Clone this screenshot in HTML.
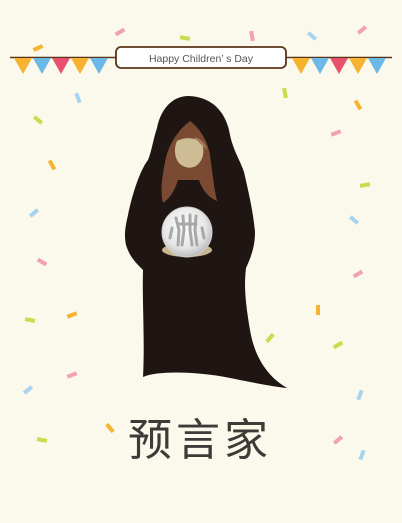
<!DOCTYPE html>
<html><head><meta charset="utf-8"><style>
html,body{margin:0;padding:0;background:#fbf9ec;}
#root{position:relative;width:402px;height:523px;overflow:hidden;background:#fbf9ec;}
svg{position:absolute;left:0;top:0;}
</style></head><body>
<div id="root">
<svg width="402" height="523" viewBox="0 0 402 523">
 <defs>
  <radialGradient id="orb" cx="0.45" cy="0.4" r="0.6">
   <stop offset="0" stop-color="#ffffff"/><stop offset="0.7" stop-color="#e6e6e6"/><stop offset="1" stop-color="#bdbdbd"/>
  </radialGradient>
 </defs>
 <g id="confetti"></g>
 <g>
  <line x1="10" y1="57.5" x2="392" y2="57.5" stroke="#5a3518" stroke-width="1.5"/>
  <polygon points="14,58 32,58 23,74" fill="#f6b330"/>
  <polygon points="33,58 51,58 42,74" fill="#6cb8e6"/>
  <polygon points="52,58 70,58 61,74" fill="#e8506e"/>
  <polygon points="71,58 89,58 80,74" fill="#f6b330"/>
  <polygon points="90,58 108,58 99,74" fill="#6cb8e6"/>
  <polygon points="292,58 310,58 301,74" fill="#f6b330"/>
  <polygon points="311,58 329,58 320,74" fill="#6cb8e6"/>
  <polygon points="330,58 348,58 339,74" fill="#e8506e"/>
  <polygon points="349,58 367,58 358,74" fill="#f6b330"/>
  <polygon points="368,58 386,58 377,74" fill="#6cb8e6"/>
 </g>
 <g>
  <rect x="116" y="47" width="170" height="21" rx="5" fill="#fff" stroke="#5a3518" stroke-width="1.8"/>
  <text x="201" y="62" text-anchor="middle" font-family="Liberation Sans, sans-serif" font-size="10.5" fill="#555">Happy Children’ s Day</text>
 </g>
 <g>
  <path d="M187,96 C170,97 160,112 157,128 C153,140 152,150 148,160 C140,170 132,195 128,215 C125,228 124,235 126,245 C130,258 138,265 143,270 C142,300 145,340 143,377 C160,370 200,372 230,378 C255,383 275,387 287,388 C270,378 255,360 250,330 C245,300 244,285 246,268 C252,255 255,245 255,232 C253,210 248,190 244,172 C240,160 233,150 230,135 C226,110 210,96 187,96 Z" fill="#1f1614"/>
  <path d="M190,121 C178,130 168,145 165,162 C162,178 160,192 163,203 C170,198 175,190 178,180 L199,180 C203,192 210,198 217,201 C214,188 212,170 210,155 C207,138 198,127 190,121 Z" fill="#7a4a33"/>
  <path d="M177,141 C183,137 197,137 202,143 C205,152 203,161 196,166 C190,169 184,168 179,163 C174,157 174,147 177,141 Z" fill="#cdbc94"/>
  <path d="M194,137 C200,138 206,143 207,150 C203,146 198,142 194,137 Z" fill="#a57a5e"/>
  <ellipse cx="187" cy="250" rx="25" ry="7" fill="#c9b58e"/>
  <circle cx="187" cy="232" r="25" fill="url(#orb)" stroke="#cfcfcf" stroke-width="1"/>
  <path d="M176,218 L179,230 L178,245 M183,216 L184,230 L182,245 M190,215 L190,230 L192,245 M196,216 L195,230 L197,245 M179,224 L196,224 M172,228 L170,238 M202,228 L204,238" stroke="#a8a8a8" stroke-width="3" fill="none" stroke-linecap="round"/>
 </g>
 <text x="200" y="455" text-anchor="middle" font-family="Liberation Sans, 'Noto Sans CJK SC', sans-serif" font-size="44" fill="#3d3a38" letter-spacing="4">预言家</text>
</svg>
</div>
<script>
const cx=[120,38,185,252,312,362,78,38,285,358,336,52,365,34,354,42,358,30,72,318,338,270,72,28,360,110,42,338,362];
const cy=[32,48,38,36,36,30,98,120,93,105,133,165,185,213,220,262,274,320,315,310,345,338,375,390,395,428,440,440,455];
const cc=['#f2a0b4','#f6b330','#c8dc50','#f2a0b4','#a8d4f0','#f2a0b4','#a8d4f0','#c8dc50','#c8dc50','#f6b330','#f2a0b4','#f6b330','#c8dc50','#a8d4f0','#a8d4f0','#f2a0b4','#f2a0b4','#c8dc50','#f6b330','#f6b330','#c8dc50','#c8dc50','#f2a0b4','#a8d4f0','#a8d4f0','#f6b330','#c8dc50','#f2a0b4','#a8d4f0'];
const ca=[-30,-25,10,80,40,-40,70,40,80,60,-20,60,-10,-40,40,30,-30,10,-20,90,-30,-50,-20,-40,-70,50,10,-40,-70];
const g=document.getElementById('confetti');
for(let i=0;i<cx.length;i++){
 const r=document.createElementNS('http://www.w3.org/2000/svg','rect');
 r.setAttribute('x',cx[i]-5);r.setAttribute('y',cy[i]-2);r.setAttribute('width',10);r.setAttribute('height',4);
 r.setAttribute('fill',cc[i]);r.setAttribute('transform','rotate('+ca[i]+' '+cx[i]+' '+cy[i]+')');
 
 
 g.appendChild(r);
}
</script>
</body></html>
